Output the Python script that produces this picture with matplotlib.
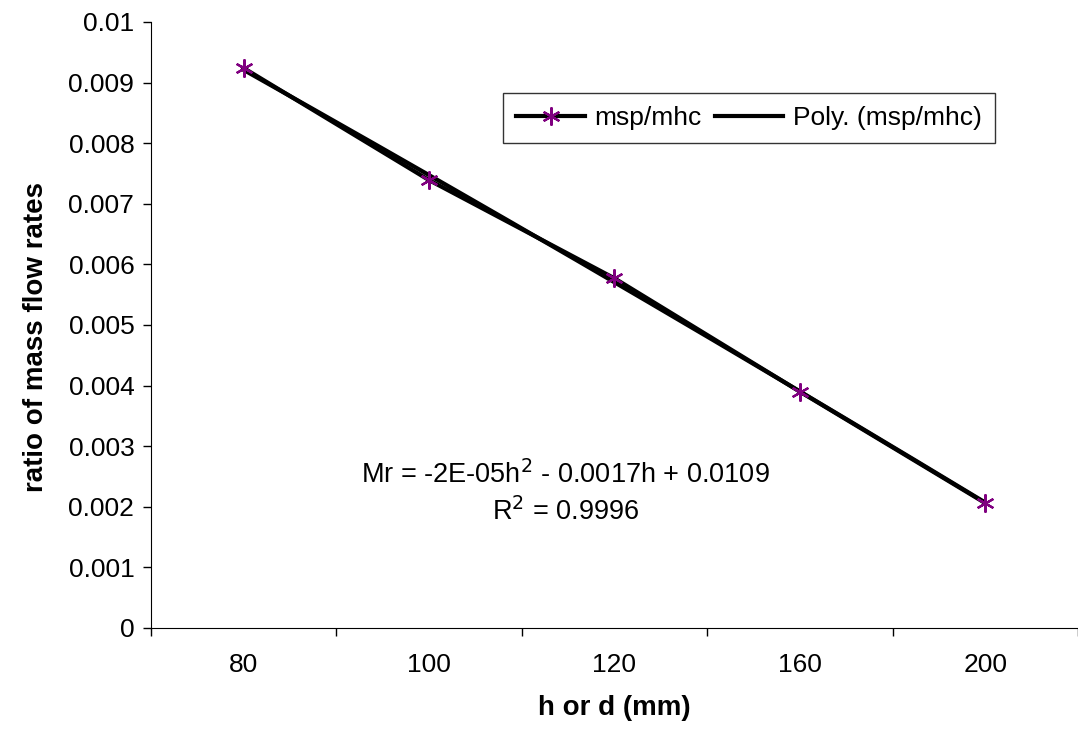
import numpy as np
import matplotlib.pyplot as plt

plt.rcParams['font.family'] = ['Liberation Sans', 'DejaVu Sans']

# veri
h_labels = ['80', '100', '120', '160', '200']
ratio = [0.00924, 0.00739, 0.00577, 0.00390, 0.00206]

x = np.arange(len(h_labels))

fig = plt.figure(figsize=(10.78, 7.40), dpi=100)
ax = fig.add_axes([0.140, 0.1514, 0.860, 0.8189])

# seri + polinom trend (kategori indeksine göre, Excel gibi)
ax.plot(x, ratio, color='black', lw=3, marker=(6, 2, 0), markersize=13,
        markeredgecolor='#800080', markerfacecolor='#800080', markeredgewidth=1.6,
        label='msp/mhc', zorder=3)
idx = x + 1
coef = np.polyfit(idx, ratio, 2)
xs = np.linspace(1, len(h_labels), 200)
ax.plot(xs - 1, np.polyval(coef, xs), color='black', lw=3, label='Poly. (msp/mhc)', zorder=2)

ax.set_xlim(-0.5, len(h_labels) - 0.5)
ax.set_ylim(0, 0.01)
ax.set_yticks(np.arange(0, 0.0101, 0.001))
ax.set_yticklabels(['0', '0.001', '0.002', '0.003', '0.004', '0.005', '0.006',
                    '0.007', '0.008', '0.009', '0.01'])
ax.set_xticks(np.arange(-0.5, len(h_labels)), labels=[''] * (len(h_labels) + 1))
ax.set_xticks(x, labels=h_labels, minor=True)
ax.tick_params(axis='both', which='major', length=6, width=1, labelsize=19, direction='out')
ax.tick_params(axis='y', pad=6)
ax.tick_params(axis='x', which='minor', length=0, pad=18, labelsize=19)
ax.spines['top'].set_visible(False)
ax.spines['right'].set_visible(False)

ax.set_xlabel('h or d (mm)', fontsize=20, fontweight='bold', labelpad=13)
ax.set_ylabel('ratio of mass flow rates', fontsize=20, fontweight='bold', labelpad=14, y=0.48)

ax.text(0.447, 0.2525, 'Mr = -2E-05h$^2$ - 0.0017h + 0.0109', transform=ax.transAxes,
        ha='center', va='center', fontsize=19.5)
ax.text(0.447, 0.191, 'R$^2$ = 0.9996', transform=ax.transAxes,
        ha='center', va='center', fontsize=19.5)

leg = ax.legend(loc='upper left', bbox_to_anchor=(0.380, 0.883), ncol=2, fontsize=19,
                frameon=True, fancybox=False, edgecolor='black', handlelength=2.6,
                columnspacing=0.5, handletextpad=0.35, borderpad=0.5, borderaxespad=0)
leg.get_frame().set_linewidth(1)

plt.savefig('out.png', dpi=100)
